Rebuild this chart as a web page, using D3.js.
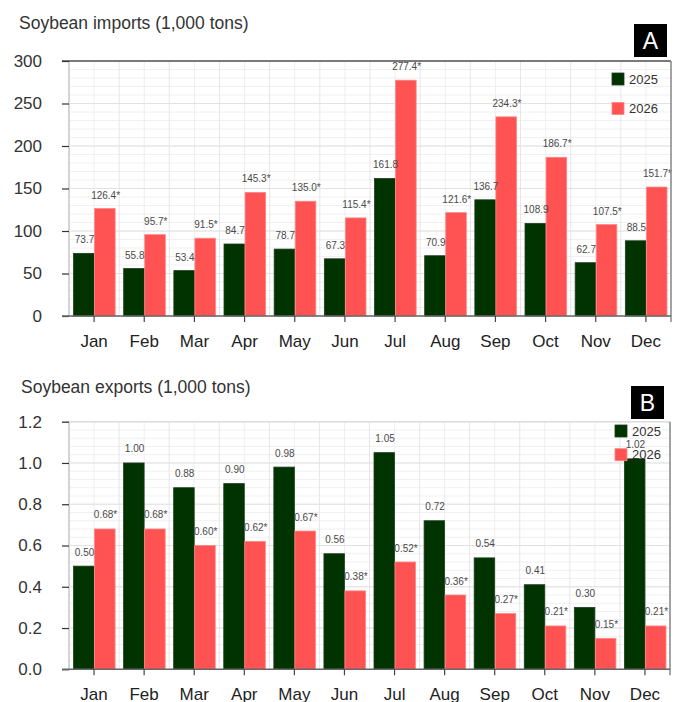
<!DOCTYPE html>
<html>
<head>
<meta charset="utf-8">
<script src="https://cdn.jsdelivr.net/npm/d3@7/dist/d3.min.js"></script>
<style>
  html, body { margin: 0; padding: 0; background: #fff; }
  svg { display: block; font-family: "Liberation Sans", Arial, sans-serif; }
</style>
</head>
<body>
<svg id="chart" width="676" height="702"></svg>
<script>
// Monthly soybean trade, 1,000 tons
const months = ["Jan", "Feb", "Mar", "Apr", "May", "Jun", "Jul", "Aug", "Sep", "Oct", "Nov", "Dec"];
const years = ["2025", "2026"];

const imports2025 = [73.7, 55.8, 53.4, 84.7, 78.7, 67.3, 161.8, 70.9, 136.7, 108.9, 62.7, 88.5];
const imports2026 = [126.4, 95.7, 91.5, 145.3, 135.0, 115.4, 277.4, 121.6, 234.3, 186.7, 107.5, 151.7];

const exports2025 = [0.50, 1.00, 0.88, 0.90, 0.98, 0.56, 1.05, 0.72, 0.54, 0.41, 0.30, 1.02];
const exports2026 = [0.68, 0.68, 0.60, 0.62, 0.67, 0.38, 0.52, 0.36, 0.27, 0.21, 0.15, 0.21];

const importTicks = [0, 50, 100, 150, 200, 250, 300];
const exportTicks = [0, 0.2, 0.4, 0.6, 0.8, 1.0, 1.2];

const colors = { "2025": "#003300", "2026": "#ff5252" };
const strokes = { "2025": "#1d3d1d", "2026": "#ff8484" };

const svg = d3.select("#chart");

function drawPanel(opt) {
  const g = svg.append("g");
  const x = d3.scaleBand().domain(months).range([opt.left, opt.right])
    .paddingInner(0.16).paddingOuter(0.08);
  const xs = d3.scaleBand().domain(years).range([0, x.bandwidth()]);
  const y = d3.scaleLinear().domain([0, opt.max]).range([opt.bottom, opt.top]);
  const step = x.step();

  // minor horizontal grid
  const minor = d3.range(0, opt.max + opt.minor / 2, opt.minor);
  g.append("g").selectAll("line").data(minor).join("line")
    .attr("x1", opt.left).attr("x2", opt.right)
    .attr("y1", d => y(d)).attr("y2", d => y(d))
    .attr("stroke", "#f0f0f0").attr("stroke-width", 1);

  // vertical grid at band edges and band centres
  const vpos = d3.range(0, months.length * 2 + 1).map(i => opt.left + i * step / 2);
  g.append("g").selectAll("line").data(vpos).join("line")
    .attr("x1", d => d).attr("x2", d => d)
    .attr("y1", opt.top).attr("y2", opt.bottom)
    .attr("stroke", (d, i) => i === 0 ? "#d4d4d4" : (i % 2 === 0 ? "#e6e6e6" : "#eeeeee"))
    .attr("stroke-width", (d, i) => i === 0 ? 2 : 1);

  // major horizontal grid
  g.append("g").selectAll("line").data(opt.ticks).join("line")
    .attr("x1", opt.left).attr("x2", opt.right)
    .attr("y1", d => y(d)).attr("y2", d => y(d))
    .attr("stroke", "#e2e2e2").attr("stroke-width", 1);

  // bars
  const rows = months.map((m, i) => ({ month: m, "2025": opt.s1[i], "2026": opt.s2[i] }));
  const grp = g.append("g").selectAll("g").data(rows).join("g")
    .attr("transform", d => `translate(${x(d.month)},0)`);
  grp.selectAll("rect").data(d => years.map(k => ({ key: k, value: d[k] }))).join("rect")
    .attr("x", d => xs(d.key) + 0.5)
    .attr("width", xs.bandwidth() - 0.5)
    .attr("y", d => y(d.value))
    .attr("height", d => y(0) - y(d.value))
    .attr("fill", d => colors[d.key])
    .attr("stroke", d => strokes[d.key])
    .attr("stroke-width", 0.8);

  // value labels
  grp.selectAll("text").data(d => years.map(k => ({ key: k, value: d[k] }))).join("text")
    .attr("x", d => xs(d.key) + xs.bandwidth() / 2 + 1)
    .attr("y", d => y(d.value) - opt.labelGap)
    .attr("text-anchor", "middle")
    .attr("font-size", 10)
    .attr("fill", "#4a4a4a")
    .text(d => d.value.toFixed(opt.digits) + (d.key === "2026" ? "*" : ""));

  // frame: top, right, baseline
  g.append("line").attr("x1", opt.left - 7).attr("x2", opt.right)
    .attr("y1", opt.top).attr("y2", opt.top)
    .attr("stroke", opt.topColor).attr("stroke-width", 1.5);
  g.append("line").attr("x1", opt.right).attr("x2", opt.right)
    .attr("y1", opt.top).attr("y2", opt.bottom + 6)
    .attr("stroke", "#888").attr("stroke-width", 1.5);

  // y axis
  const ya = g.append("g").attr("transform", `translate(${opt.left},0)`)
    .call(d3.axisLeft(y).tickValues(opt.ticks).tickSize(7).tickPadding(20)
      .tickFormat(d => opt.yFormat(d)));
  ya.select(".domain").remove();
  ya.selectAll(".tick line").attr("stroke", "#333").attr("stroke-width", 1.2);
  ya.selectAll(".tick text").attr("font-size", 17).attr("fill", "#333")
    .attr("font-family", "Liberation Sans, Arial, sans-serif");

  // x axis
  const xa = g.append("g").attr("transform", `translate(0,${opt.bottom})`)
    .call(d3.axisBottom(x).tickSize(6).tickPadding(13).tickSizeOuter(0));
  xa.select(".domain").attr("stroke", "#666").attr("stroke-width", 1.5)
    .attr("d", `M${opt.left - 7},0H${opt.right}`);
  xa.selectAll(".tick line").attr("stroke", "#444").attr("stroke-width", 1.2);
  xa.selectAll(".tick text").attr("font-size", 17).attr("fill", "#222")
    .attr("font-family", "Liberation Sans, Arial, sans-serif");

  // title
  svg.append("text").attr("x", opt.titleX).attr("y", opt.titleY)
    .attr("font-size", 17.5).attr("fill", "#333").text(opt.title);

  // panel letter
  svg.append("rect").attr("x", opt.boxX).attr("y", opt.boxY)
    .attr("width", 33).attr("height", 33).attr("fill", "#000");
  svg.append("text").attr("x", opt.boxX + 16.5).attr("y", opt.boxY + 24.5)
    .attr("text-anchor", "middle").attr("font-size", 23).attr("fill", "#fff")
    .text(opt.letter);

  // legend
  const lg = svg.append("g").selectAll("g").data(years).join("g")
    .attr("transform", (d, i) => `translate(${opt.legX},${opt.legY + i * opt.legStep})`);
  lg.append("rect").attr("width", 12).attr("height", 12)
    .attr("fill", d => colors[d]).attr("stroke", d => strokes[d]).attr("stroke-width", 0.8);
  lg.append("text").attr("x", 17).attr("y", 10.5)
    .attr("font-size", 13).attr("fill", "#333").text(d => d);
}

drawPanel({
  title: "Soybean imports (1,000 tons)", titleX: 19, titleY: 29,
  s1: imports2025, s2: imports2026,
  left: 69, right: 671, top: 61, bottom: 316,
  max: 300, minor: 10, ticks: importTicks, digits: 1, labelGap: 10,
  yFormat: d => d3.format("d")(d), topColor: "#555",
  letter: "A", boxX: 634, boxY: 24,
  legX: 612, legY: 73, legStep: 29.5
});

drawPanel({
  title: "Soybean exports (1,000 tons)", titleX: 21, titleY: 393,
  s1: exports2025, s2: exports2026,
  left: 69, right: 670, top: 421.7, bottom: 669.3,
  max: 1.2, minor: 0.04, ticks: exportTicks, digits: 2, labelGap: 10.5,
  yFormat: d => d3.format(".1f")(d), topColor: "#dedede",
  letter: "B", boxX: 631, boxY: 386,
  legX: 615, legY: 425, legStep: 23.7
});
</script>
</body>
</html>
